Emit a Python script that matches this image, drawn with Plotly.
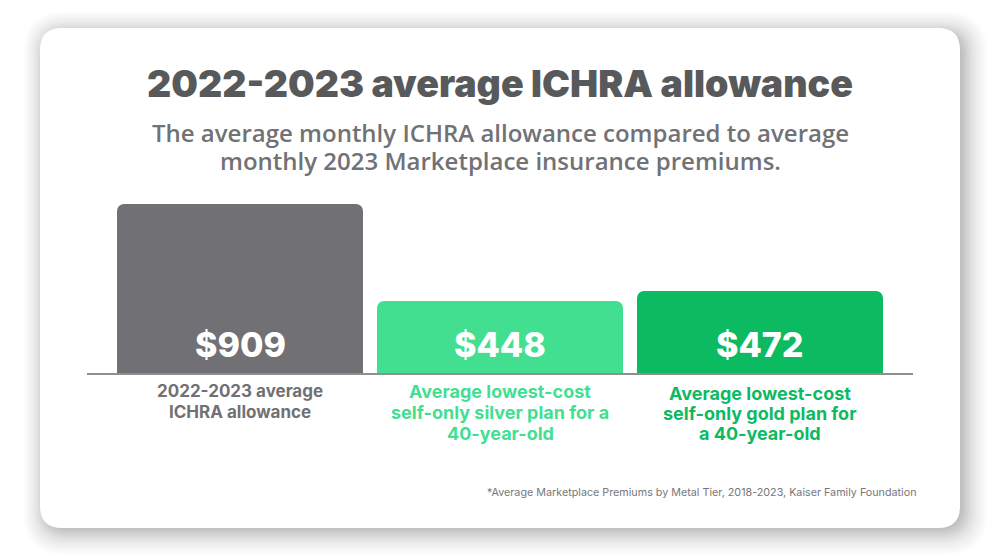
import plotly.graph_objects as go

title = "2022-2023 average ICHRA allowance"
subtitle_lines = ["The average monthly ICHRA allowance compared to average",
                  "monthly 2023 Marketplace insurance premiums."]
category_lines = [["2022-2023 average", "ICHRA allowance"],
                  ["Average lowest-cost", "self-only silver plan for a", "40-year-old"],
                  ["Average lowest-cost", "self-only gold plan for", "a 40-year-old"]]
value_labels = ["$909", "$448", "$472"]
# Bar heights as drawn in the source graphic, which is not strictly to scale with its labels
drawn_heights = [909, 387, 441]
colors = ["#717074", "#43df91", "#0cba62"]
footnote = "*Average Marketplace Premiums by Metal Tier, 2018-2023, Kaiser Family Foundation"

W, H = 1000, 558


# plot area occupies x 87..913, y 204..373
def dx(px): return (px - 87) / 826
def dy(py): return (373 - py) / 169


def rr_dom(x0, y0, x1, y1, r):
    rx, ry = r / 826, r / 169
    X0, X1, Y0, Y1 = dx(x0), dx(x1), dy(y0), dy(y1)
    return (f"M{X0+rx},{Y0} L{X1-rx},{Y0} Q{X1},{Y0} {X1},{Y0-ry} L{X1},{Y1+ry} Q{X1},{Y1} {X1-rx},{Y1} "
            f"L{X0+rx},{Y1} Q{X0},{Y1} {X0},{Y1+ry} L{X0},{Y0-ry} Q{X0},{Y0} {X0+rx},{Y0} Z")


shapes = []
for i in range(22, 0, -1):
    g = i * 1.5
    shapes.append(dict(type="path", xref="x domain", yref="y domain", layer="below",
                       path=rr_dom(47 - g * 0.75, 35 - g * 0.75, 961 + g * 0.85, 528 + g * 0.85, 22 + g * 0.6),
                       line_width=0, fillcolor=f"rgba(60,60,60,{0.004 + 0.001 * (22 - i):.4f})"))
shapes.append(dict(type="path", xref="x domain", yref="y domain", layer="below",
                   path=rr_dom(40, 28, 960, 528, 22), line_width=0, fillcolor="#ffffff"))

fig = go.Figure(go.Bar(x=[0, 1, 2], y=drawn_heights, marker_color=colors, marker_line_width=0,
                       hoverinfo="skip"))

annotations = [dict(text=title, xref="x domain", yref="y domain", x=0.5, y=dy(84),
                    xanchor="center", yanchor="middle", showarrow=False,
                    font=dict(size=37.5, color="#58595b", family="Inter", weight=900))]
for line, py in zip(subtitle_lines, [132.5, 160.5]):
    annotations.append(dict(text=line, xref="x domain", yref="y domain", x=0.5, y=dy(py),
                            xanchor="center", yanchor="middle", showarrow=False,
                            font=dict(size=24, color="#717275", family="Open Sans", weight=600)))
label_base = [18, 18, 20]
label_size = [17, 18, 18]
for i, (lab, lines, c) in enumerate(zip(value_labels, category_lines, colors)):
    annotations.append(dict(text=lab, x=i, y=0, xref="x", yref="y", yanchor="middle", xanchor="center",
                            yshift=29, showarrow=False,
                            font=dict(size=34, color="white", family="Inter", weight=800)))
    for j, line in enumerate(lines):
        annotations.append(dict(text=line, x=i, y=0, xref="x", yref="y", yanchor="middle", xanchor="center",
                                yshift=-(label_base[i] + j * (21 if i < 2 else 20)), showarrow=False,
                                font=dict(size=label_size[i], color=c, family="Inter", weight=700)))
annotations.append(dict(text=footnote, xref="x domain", yref="y domain", x=dx(918.5), y=dy(492),
                        xanchor="right", yanchor="middle", showarrow=False,
                        font=dict(size=10.75, color="#77777b", family="Inter")))

fig.update_layout(
    width=W, height=H, margin=dict(l=87, r=87, t=204, b=185, pad=0),
    paper_bgcolor="#ffffff", plot_bgcolor="rgba(0,0,0,0)", showlegend=False,
    bargap=14 / 260, barcornerradius=7, shapes=shapes, annotations=annotations,
    xaxis=dict(range=[-153 / 260, 2 + 153 / 260], showticklabels=False, showgrid=False, zeroline=False,
               showline=True, linecolor="#8f8f92", linewidth=2, ticks=""),
    yaxis=dict(range=[0, 909], visible=False),
)
fig.write_html("out.html", config={"displayModeBar": False},
               post_script="document.body.style.margin='0';document.body.style.overflow='hidden';")
